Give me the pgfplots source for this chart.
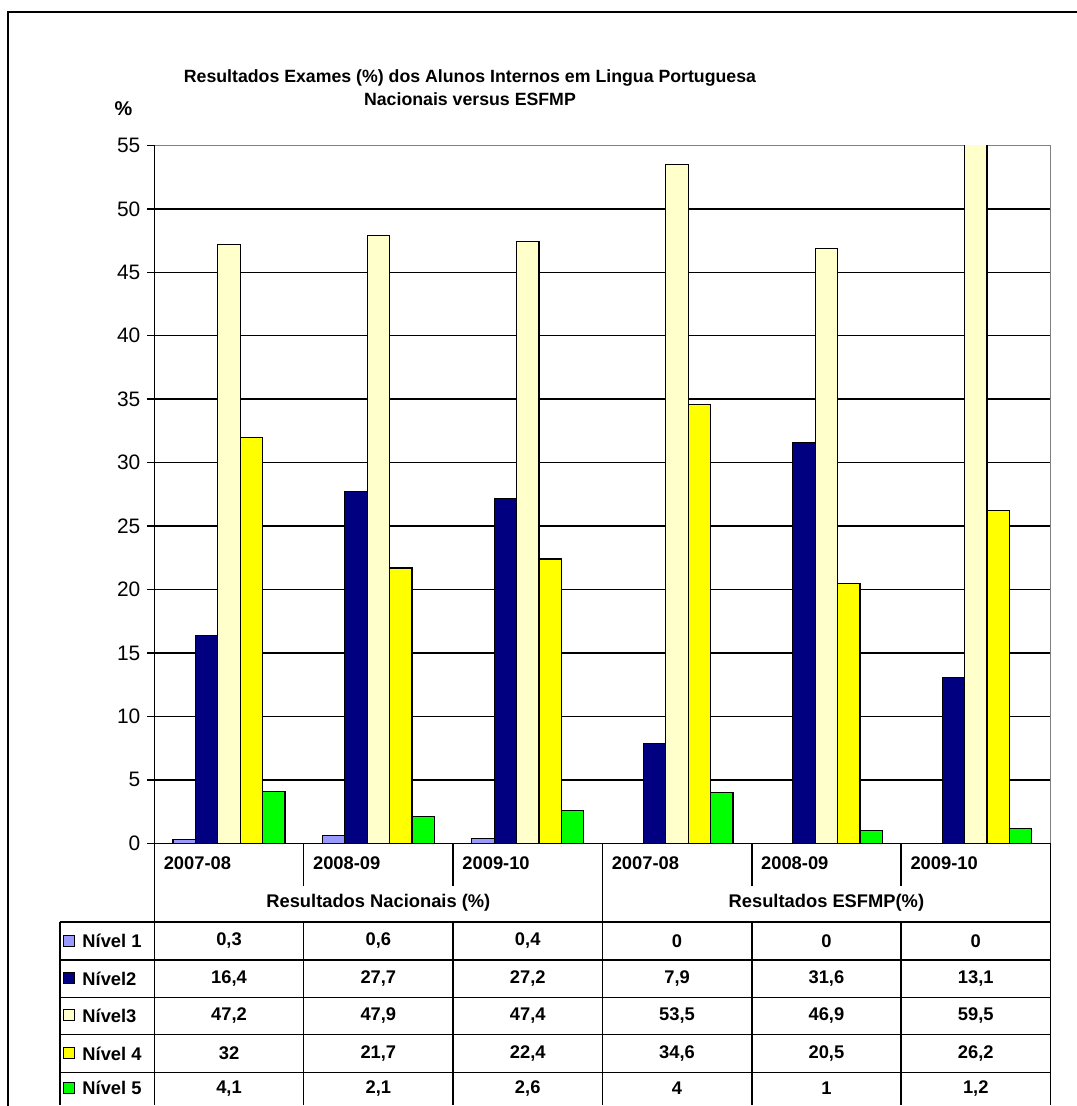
\documentclass[border=0pt]{standalone}
\usepackage{pgfplots}
\pgfplotsset{compat=1.18}
\usepackage{fontspec}
\setmainfont{Liberation Sans}

\definecolor{nivA}{HTML}{9999FF}
\definecolor{nivB}{HTML}{000080}
\definecolor{nivC}{HTML}{FFFFCC}
\definecolor{nivD}{HTML}{FFFF00}
\definecolor{nivE}{HTML}{00FF00}

\newcommand{\tb}{\fontsize{9.2}{10}\selectfont\bfseries}

\begin{document}
\begin{tikzpicture}
% page frame in pixel units (y downwards)
\begin{scope}[x=0.5pt,y=-0.5pt]
  \useasboundingbox (0,0) rectangle (1081,1106);
  \draw[line width=0.8pt] (1100,12) -- (8,12) -- (8,1120);
  \node[font=\fontsize{8.9}{12}\selectfont\bfseries, align=center] at (472,88)
    {Resultados Exames (\%) dos Alunos Internos em Lingua Portuguesa\\Nacionais versus ESFMP};
  \node[font=\fontsize{10}{12}\selectfont\bfseries] at (124,109) {\%};
\end{scope}

\begin{axis}[
  name=ax,
  at={(77.5pt,-423.5pt)}, anchor=south west,
  scale only axis, width=450pt, height=350.5pt,
  xmin=-0.5, xmax=5.5, ymin=0, ymax=55,
  ybar=0pt, bar width=0.15,
  xtick=\empty, ytick={0,5,...,55}, ytick pos=left,
  tick align=outside, major tick length=3.5pt,
  ytick style={black, line width=0.7pt},
  ymajorgrids, grid style={black, line width=0.75pt},
  axis line style={draw=gray, line width=0.8pt},
  yticklabel style={font=\fontsize{10.5}{12}\selectfont},
  /pgf/number format/assume math mode=true,
  every axis plot/.append style={draw=black, line width=0.6pt},
]
\addplot[fill=nivA] coordinates {(0,0.3) (1,0.6) (2,0.4) (3,0) (4,0) (5,0)};
\addplot[fill=nivB] coordinates {(0,16.4) (1,27.7) (2,27.2) (3,7.9) (4,31.6) (5,13.1)};
\addplot[fill=nivC] coordinates {(0,47.2) (1,47.9) (2,47.4) (3,53.5) (4,46.9) (5,59.5)};
\addplot[fill=nivD] coordinates {(0,32) (1,21.7) (2,22.4) (3,34.6) (4,20.5) (5,26.2)};
\addplot[fill=nivE] coordinates {(0,4.1) (1,2.1) (2,2.6) (3,4) (4,1) (5,1.2)};
\end{axis}
\draw[black, line width=0.8pt] (ax.north west) -- (ax.south west) -- (ax.south east);

% data table below the plot
\begin{scope}[x=0.5pt,y=-0.5pt, line width=0.8pt]
  \draw (155,847) -- (155,1110);
  \draw (605,847) -- (605,1110);
  \draw (1055,847) -- (1055,1110);
  \draw (60,926) -- (60,1110);
  \foreach \c in {305,455,755,905} {
    \draw (\c,847) -- (\c,890);
    \draw (\c,926) -- (\c,1110);
  }
  \foreach \r in {926,964,1002,1039,1077}
    \draw (60,\r) -- (1055,\r);
  \foreach \c/\t in {155/2007-08,305/2008-09,455/2009-10,605/2007-08,755/2008-09,905/2009-10}
    \node[font=\tb, anchor=west] at (\c+2,867) {\t};
  \node[font=\tb] at (380,907) {Resultados Nacionais (\%)};
  \node[font=\tb] at (830,907) {Resultados ESFMP(\%)};
  \foreach \y/\col/\lab/\va/\vb/\vc/\vd/\ve/\vf in {
      945/nivA/{Nível 1}/{0,3}/{0,6}/{0,4}/0/0/0,
      983/nivB/{Nível2}/{16,4}/{27,7}/{27,2}/{7,9}/{31,6}/{13,1},
      1020/nivC/{Nível3}/{47,2}/{47,9}/{47,4}/{53,5}/{46,9}/{59,5},
      1058/nivD/{Nível 4}/32/{21,7}/{22,4}/{34,6}/{20,5}/{26,2},
      1093/nivE/{Nível 5}/{4,1}/{2,1}/{2,6}/4/1/{1,2}} {
    \draw[fill=\col, line width=0.4pt] (64,\y-6) rectangle (75,\y+5);
    \node[font=\tb, anchor=west, inner sep=0pt] at (82,\y) {\lab};
    \node[font=\tb] at (230,\y) {\va};
    \node[font=\tb] at (380,\y) {\vb};
    \node[font=\tb] at (530,\y) {\vc};
    \node[font=\tb] at (680,\y) {\vd};
    \node[font=\tb] at (830,\y) {\ve};
    \node[font=\tb] at (980,\y) {\vf};
  }
\end{scope}
\end{tikzpicture}
\end{document}
